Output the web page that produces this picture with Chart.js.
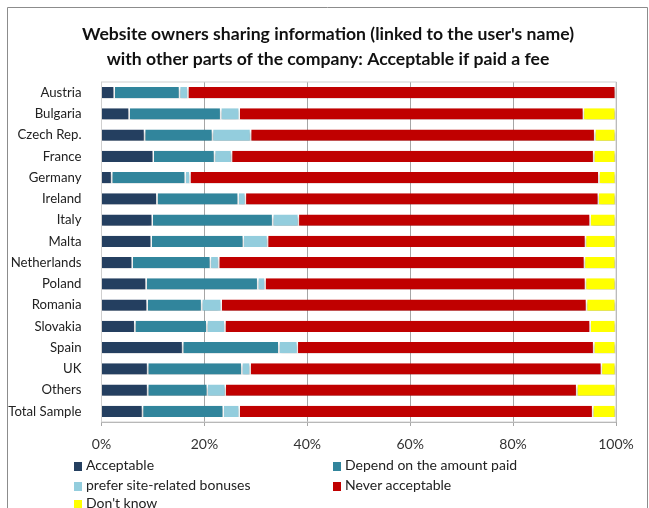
<!DOCTYPE html>
<html>
<head>
<meta charset="utf-8">
<script src="https://cdn.jsdelivr.net/npm/chart.js@4.4.1/dist/chart.umd.min.js"></script>
<style>
  html, body { margin: 0; padding: 0; background: #fff; }
  #wrap { position: relative; width: 649px; height: 508px; overflow: hidden; }
  #legend { position: absolute; left: 74px; top: 456px; width: 560px;
            font-family: "Lato", "Roboto", sans-serif; font-size: 14px; color: #222; }
  #legend .item { position: absolute; white-space: nowrap; line-height: 18px; }
  #legend .box { display: inline-block; width: 8px; height: 9px; margin-right: 4px; vertical-align: -1px; }
</style>
</head>
<body>
<div id="wrap">
  <canvas id="chart" width="649" height="508"></canvas>
  <div id="legend"></div>
</div>
<script>
/* ==========================
   DATA
========================== */
const countries = ["Austria","Bulgaria","Czech Rep.","France","Germany","Ireland","Italy","Malta",
  "Netherlands","Poland","Romania","Slovakia","Spain","UK","Others","Total Sample"];

const acceptable = [2.6, 5.5, 8.5, 10.2, 2.1, 10.9, 10.0, 9.8, 6.1, 8.8, 9.0, 6.6, 15.9, 9.1, 9.1, 8.1];
const dependOnAmount = [12.7, 17.8, 13.2, 11.9, 14.3, 15.8, 23.4, 17.9, 15.2, 21.7, 10.6, 14.0, 18.7, 18.3, 11.6, 15.7];
const preferBonuses = [1.6, 3.6, 7.4, 3.3, 0.9, 1.4, 5.0, 4.7, 1.6, 1.4, 3.8, 3.5, 3.6, 1.6, 3.5, 3.1];
const neverAcceptable = [83.1, 66.9, 66.9, 70.4, 79.5, 68.6, 56.7, 61.8, 71.1, 62.3, 71.0, 71.0, 57.6, 68.3, 68.3, 68.7];
const dontKnow = [0, 6.2, 4.0, 4.2, 3.2, 3.3, 4.9, 5.8, 6.0, 5.8, 5.6, 4.9, 4.2, 2.7, 7.5, 4.4];

const seriesNames = ["Acceptable","Depend on the amount paid","prefer site-related bonuses","Never acceptable","Don't know"];
const seriesColors = ["#243f60","#31859c","#93cddd","#c00000","#ffff00"];
const xTicks = [0, 20, 40, 60, 80, 100];

const titleLines = ["Website owners sharing information (linked to the user's name)",
  "with other parts of the company: Acceptable if paid a fee"];

const FONT = '"Lato", "Roboto", sans-serif';

/* ==========================
   PLUGINS
========================== */
const framePlugin = {
  id: "frame",
  beforeDraw(chart) {
    const c = chart.ctx;
    c.save();
    c.fillStyle = "#fff";
    c.fillRect(0, 0, chart.width, chart.height);
    c.strokeStyle = "#8c8c8c";
    c.lineWidth = 1;
    c.beginPath();
    c.moveTo(7.5, chart.height);
    c.lineTo(7.5, 7.5);
    c.lineTo(647.5, 7.5);
    c.lineTo(647.5, chart.height);
    c.stroke();
    // title
    c.fillStyle = "#111";
    c.font = "bold 17.6px " + FONT;
    c.textAlign = "center";
    c.textBaseline = "middle";
    c.fillText(titleLines[0], 328, 34);
    c.fillText(titleLines[1], 328, 59);
    c.restore();
  },
  beforeDatasetsDraw(chart) {
    const c = chart.ctx;
    c.save();
    c.shadowColor = "rgba(0,0,0,0.35)";
    c.shadowOffsetY = 2;
    c.shadowBlur = 3;
  },
  afterDatasetsDraw(chart) {
    chart.ctx.restore();
    const a = chart.chartArea, c = chart.ctx;
    c.save();
    c.strokeStyle = "#d0d0d0";
    c.lineWidth = 1;
    c.strokeRect(a.left, a.top, a.right - a.left, a.bottom - a.top);
    c.restore();
  }
};

/* ==========================
   CHART
========================== */
const allSeries = [acceptable, dependOnAmount, preferBonuses, neverAcceptable, dontKnow];

new Chart(document.getElementById("chart"), {
  type: "bar",
  data: {
    labels: countries,
    datasets: allSeries.map((vals, i) => ({
      label: seriesNames[i],
      data: vals,
      backgroundColor: seriesColors[i],
      borderColor: "#ffffff",
      borderWidth: { left: 0, right: 1.5, top: 0, bottom: 0 },
      borderSkipped: false,
      barPercentage: 0.55,
      categoryPercentage: 0.95
    }))
  },
  options: {
    indexAxis: "y",
    responsive: false,
    animation: false,
    layout: { padding: { left: 0, right: 33, top: 82, bottom: 56 } },
    plugins: {
      legend: { display: false },
      title: { display: false },
      tooltip: { enabled: false }
    },
    scales: {
      x: {
        stacked: true,
        min: 0,
        max: 100,
        afterBuildTicks: s => { s.ticks = xTicks.map(v => ({ value: v })); },
        afterFit: s => { s.height = 30; },
        ticks: {
          callback: v => v + "%",
          font: { family: FONT, size: 14 },
          color: "#333",
          padding: 10,
          maxRotation: 0
        },
        grid: { color: "#a6a6a6", tickLength: 4, drawTicks: true },
        border: { color: "#a0a0a0" }
      },
      y: {
        stacked: true,
        afterFit: s => { s.width = 101.5; },
        ticks: {
          font: { family: FONT, size: 13.2 },
          color: "#222",
          padding: 12
        },
        grid: { display: false },
        border: { color: "#a0a0a0" }
      }
    }
  },
  plugins: [framePlugin]
});

/* ==========================
   LEGEND
========================== */
const legend = document.getElementById("legend");
const legendPos = [[0, 0], [259, 0], [0, 20], [259, 20], [0, 38]];
seriesNames.forEach((name, i) => {
  const item = document.createElement("div");
  item.className = "item";
  item.style.left = legendPos[i][0] + "px";
  item.style.top = legendPos[i][1] + "px";
  item.innerHTML = `<span class="box" style="background:${seriesColors[i]}"></span>${name}`;
  legend.appendChild(item);
});
</script>
</body>
</html>
